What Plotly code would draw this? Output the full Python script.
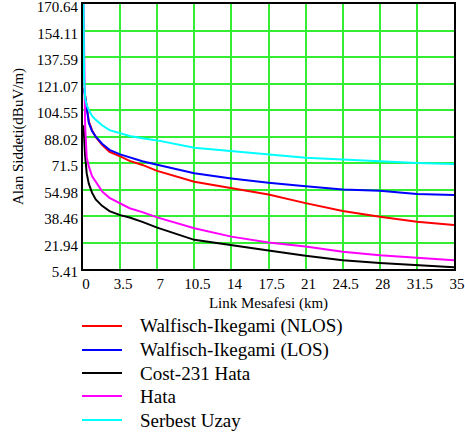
import plotly.graph_objects as go

# Distance (km)
distance = [0.05, 0.1, 0.2, 0.35, 0.55, 0.85, 1.2, 1.8, 2.5, 3.5, 4.4, 5.6, 7.0,
            10.5, 14.0, 17.5, 21.0, 24.5, 28.0, 31.5, 35.0]

# Field strength (dBuV/m)
wi_nlos = [None, 118.5, 113.0, 105.0, 97.5, 92.0, 87.8, 82.8, 78.5, 75.6, 72.8, 70.3, 66.6,
           59.8, 55.6, 51.8, 46.5, 41.6, 38.0, 34.9, 32.9]
wi_los = [None, 117.5, 112.0, 104.0, 96.5, 91.5, 88.0, 83.5, 79.7, 76.9, 75.0, 72.6, 70.4,
          65.1, 61.9, 59.2, 57.0, 55.0, 54.2, 52.1, 51.5]
cost231 = [95.0, 88.0, 76.0, 65.0, 58.5, 53.0, 48.8, 44.8, 41.5, 39.0, 37.5, 34.8, 31.2,
           23.6, 20.5, 17.0, 13.6, 10.8, 9.1, 7.6, 6.5]
hata = [170.6, 130.0, 95.0, 75.0, 69.4, 63.3, 59.5, 53.8, 49.8, 46.5, 43.3, 40.9, 37.6,
        30.8, 25.6, 22.0, 19.5, 16.1, 14.0, 12.5, 10.8]
free_space = [170.6, 125.0, 112.0, 107.5, 104.5, 100.8, 98.4, 95.0, 92.0, 89.8, 88.3, 87.0, 85.6,
              81.0, 78.9, 77.2, 74.8, 73.7, 72.4, 71.5, 70.9]

series_names = ["Walfisch-Ikegami (NLOS)", "Walfisch-Ikegami (LOS)", "Cost-231 Hata", "Hata", "Serbest Uzay"]
series_values = [wi_nlos, wi_los, cost231, hata, free_space]
series_colors = ["#ff0000", "#0000ff", "#000000", "#ff00ff", "#00ffff"]

x_tickvals = [0, 3.5, 7, 10.5, 14, 17.5, 21, 24.5, 28, 31.5, 35]
x_ticktext = ["0", "3.5", "7", "10.5", "14", "17.5", "21", "24.5", "28", "31.5", "35"]
y_tickvals = [5.41, 21.933, 38.456, 54.979, 71.502, 88.025, 104.548, 121.071, 137.594, 154.117, 170.64]
y_ticktext = ["5.41", "21.94", "38.46", "54.98", "71.5", "88.02", "104.55", "121.07", "137.59", "154.11", "170.64"]

FONT = "Liberation Serif"
W, H = 465, 441
ML, MR, MT, MB = 83, 11, 4, 172
PW, PH = W - ML - MR, H - MT - MB


def px_to_paper_x(px):
    return (px - ML) / PW


def px_to_paper_y(py):
    return (H - MB - py) / PH


fig = go.Figure()
for name, vals, col in zip(series_names, series_values, series_colors):
    fig.add_trace(go.Scatter(x=distance, y=vals, mode="lines", name=name,
                             line=dict(color=col, width=2), showlegend=False))

axis_common = dict(
    showline=True, linecolor="black", linewidth=2, mirror=True,
    showgrid=True, gridcolor="#33ee33", gridwidth=1.5,
    zeroline=False, ticks="", automargin=False, ticklabeloverflow="allow",
    tickfont=dict(family=FONT, size=15, color="black"),
)

fig.update_xaxes(range=[0, 35], tickmode="array", tickvals=x_tickvals, ticktext=x_ticktext,
                 ticklabelshift=3,
                 title=dict(text="Link Mesafesi (km)", font=dict(family=FONT, size=15, color="black"), standoff=6),
                 **axis_common)
fig.update_yaxes(range=[5.41, 170.64], tickmode="array", tickvals=y_tickvals, ticktext=y_ticktext,
                 ticklabelshift=3,
                 title=dict(text="Alan Siddeti(dBuV/m)", font=dict(family=FONT, size=15, color="black"), standoff=10),
                 **axis_common)

# Legend drawn below the plot: a line sample and a label per series
legend_rows = [326, 350, 373, 396, 420]
shapes, annotations = [], []
for name, col, ry in zip(series_names, series_colors, legend_rows):
    yy = px_to_paper_y(ry)
    shapes.append(dict(type="line", xref="paper", yref="paper",
                       x0=px_to_paper_x(82), x1=px_to_paper_x(122), y0=yy, y1=yy,
                       line=dict(color=col, width=2)))
    annotations.append(dict(text=name, xref="paper", yref="paper",
                            x=px_to_paper_x(138), y=yy, xanchor="left", yanchor="middle",
                            showarrow=False, font=dict(family=FONT, size=19, color="black")))

fig.update_layout(
    width=W, height=H,
    margin=dict(l=ML, r=MR, t=MT, b=MB),
    paper_bgcolor="white", plot_bgcolor="white",
    font=dict(family=FONT, color="black"),
    showlegend=False,
    shapes=shapes, annotations=annotations,
)

fig.write_html("out.html", config={"displayModeBar": False},
               post_script="document.body.style.margin='0';")
